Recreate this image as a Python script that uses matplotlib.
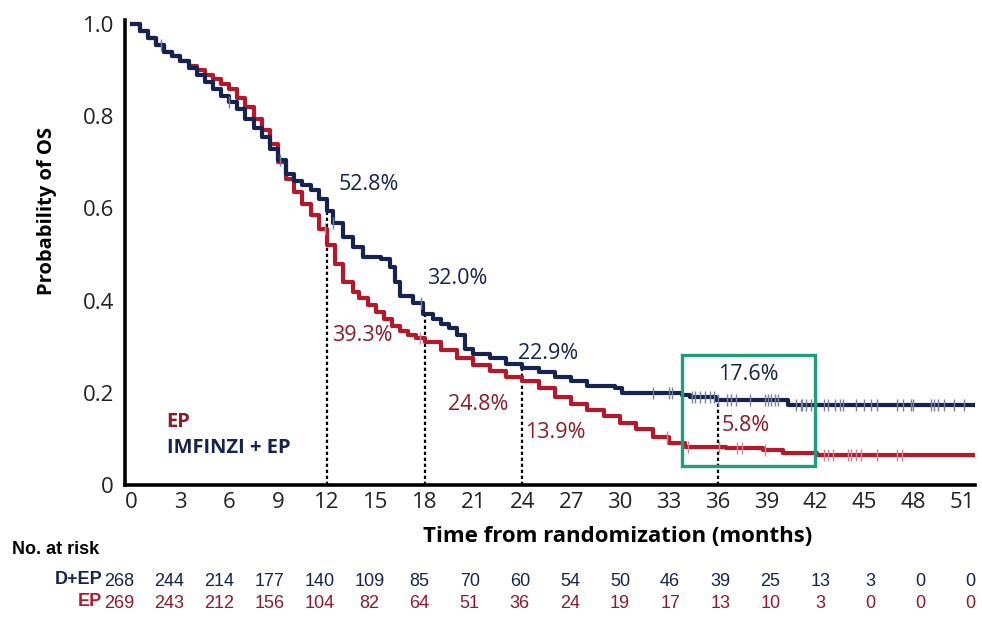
import matplotlib
matplotlib.use("Agg")
import matplotlib.pyplot as plt
from matplotlib import font_manager
from matplotlib.patches import Rectangle
import numpy as np

# Kaplan-Meier step points (months, survival probability)
dep_t = [0, 0.5, 1, 1.5, 2, 2.5, 3, 3.5, 4, 4.5, 5, 5.5, 6, 6.5, 7, 7.5, 8, 8.5,
         9, 9.5, 10, 10.5, 11, 11.5, 12, 12.4, 13, 13.6, 14.2, 15.3, 15.9, 16.2,
         16.5, 17.3, 17.9, 18.5, 19.0, 19.5, 20.0, 20.5, 21.0, 22.0, 23.0, 24.0,
         25.0, 26.0, 27.0, 28.0, 29.7, 30.1, 33.8, 34.3, 35.9, 40.3, 51.7]
dep_s = [1.0, 0.985, 0.97, 0.955, 0.94, 0.93, 0.92, 0.905, 0.89, 0.875, 0.86, 0.845,
         0.83, 0.815, 0.795, 0.775, 0.755, 0.73, 0.705, 0.675, 0.66, 0.65, 0.64, 0.62,
         0.595, 0.568, 0.538, 0.516, 0.495, 0.49, 0.473, 0.44, 0.41, 0.395, 0.37, 0.36,
         0.35, 0.34, 0.325, 0.295, 0.285, 0.275, 0.262, 0.254, 0.245, 0.235, 0.225,
         0.215, 0.21, 0.2, 0.195, 0.19, 0.184, 0.174, 0.174]

ep_t = [0, 0.5, 1, 1.5, 2, 2.5, 3, 3.5, 4, 4.5, 5, 5.5, 6, 6.5, 7, 7.5, 8, 8.5, 9,
        9.5, 10, 10.5, 11, 11.5, 12, 12.5, 13, 13.6, 14.0, 14.5, 15.0, 15.5, 16.0,
        16.5, 17.0, 17.5, 18.0, 19.0, 20.0, 21.0, 22.0, 23.0, 24.0, 25.0, 26.0,
        27.0, 28.0, 29.0, 30.0, 31.0, 32.0, 33.0, 34.0, 36.5, 38.8, 40.0, 42.1, 51.7]
ep_s = [1.0, 0.985, 0.97, 0.955, 0.94, 0.93, 0.92, 0.91, 0.9, 0.89, 0.88, 0.87, 0.86,
        0.84, 0.82, 0.795, 0.77, 0.74, 0.70, 0.665, 0.635, 0.61, 0.585, 0.555, 0.52,
        0.48, 0.44, 0.418, 0.405, 0.39, 0.375, 0.36, 0.345, 0.335, 0.325, 0.318, 0.31,
        0.293, 0.275, 0.26, 0.248, 0.235, 0.225, 0.21, 0.19, 0.175, 0.163, 0.15, 0.135,
        0.122, 0.105, 0.092, 0.083, 0.08, 0.076, 0.069, 0.065, 0.065]

# censoring times
dep_cens = [1.8, 6.0, 9.1, 12.4, 17.8, 32.0, 33.0, 33.2, 34.4, 34.6, 34.9, 35.2, 35.5,
            35.8, 36.0, 36.6, 36.8, 37.1, 38.0, 38.9, 39.1, 39.3, 39.5, 39.7, 40.8,
            41.1, 41.2, 41.4, 41.7, 42.5, 42.8, 43.2, 43.5, 43.7, 44.5, 45.0, 45.4,
            45.8, 47.0, 47.4, 47.9, 48.0, 49.1, 49.3, 49.5, 49.9, 50.5, 51.1]
ep_cens = [11.9, 17.7, 32.9, 34.2, 36.1, 37.2, 37.5, 38.9, 42.5, 42.8, 43.1, 44.0,
           44.2, 44.5, 44.8, 45.8, 47.0, 47.3]

landmarks = [12, 18, 24, 36]
dep_pct = ["52.8%", "32.0%", "22.9%", "17.6%"]
ep_pct = ["39.3%", "24.8%", "13.9%", "5.8%"]
dep_pct_xy = [(14.55, 0.651), (20.0, 0.449), (25.6, 0.286), (37.9, 0.239)]
ep_pct_xy = [(14.2, 0.325), (21.3, 0.174), (26.0, 0.115), (37.7, 0.130)]

dep_risk = [268, 244, 214, 177, 140, 109, 85, 70, 60, 54, 50, 46, 39, 25, 13, 3, 0, 0]
ep_risk = [269, 243, 212, 156, 104, 82, 64, 51, 36, 24, 19, 17, 13, 10, 3, 0, 0, 0]

navy = "#17234f"
red = "#b3182b"
red_txt = "#8e1b2c"
navy_tick = "#7a80a0"
red_tick = "#d08098"
box_col = "#1f9e7e"

names = {f.name for f in font_manager.fontManager.ttflist}
narrow = "Liberation Sans Narrow" if "Liberation Sans Narrow" in names else "Liberation Sans"
plt.rcParams["font.family"] = ["Open Sans", "DejaVu Sans"]

W, H = 982, 621
fig = plt.figure(figsize=(W / 100, H / 100), dpi=100)
ax = fig.add_axes([125 / W, 1 - 485 / H, 850 / W, 465 / H])


def surv_at(ts, ss, x):
    i = np.searchsorted(ts, x, side="right") - 1
    return np.asarray(ss)[i]


ax.plot(ep_t, ep_s, drawstyle="steps-post", color=red, lw=3, zorder=3)
ax.plot(dep_t, dep_s, drawstyle="steps-post", color=navy, lw=3, zorder=4)

ax.plot(dep_cens, surv_at(dep_t, dep_s, dep_cens), ls="none", marker="|",
        ms=9, mew=1.0, color=navy_tick, zorder=5)
ax.plot(ep_cens, surv_at(ep_t, ep_s, ep_cens), ls="none", marker="|",
        ms=9, mew=1.0, color=red_tick, zorder=5)

# landmark drop lines
for m in landmarks:
    ax.plot([m, m], [0, surv_at(dep_t, dep_s, m)], color="black", lw=1.6,
            ls=(0, (1.5, 1.2)), zorder=2)

for txt, (x, y) in zip(dep_pct, dep_pct_xy):
    ax.text(x, y, txt, color=navy, fontsize=15.5, ha="center", va="center")
for txt, (x, y) in zip(ep_pct, ep_pct_xy):
    ax.text(x, y, txt, color=red_txt, fontsize=15.5, ha="center", va="center")

ax.add_patch(Rectangle((33.8, 0.041), 8.2, 0.241, fill=False, ec=box_col,
                       lw=2.4, zorder=6))

ax.text(2.15, 0.137, "EP", color=red_txt, fontsize=14.5, fontweight="bold", va="center")
ax.text(2.15, 0.080, "IMFINZI + EP", color=navy, fontsize=14.5, fontweight="bold",
        va="center")

ax.set_xlim(-0.4, 51.8)
ax.set_ylim(0, 1.009)
ax.set_xticks(np.arange(0, 52, 3))
ax.set_yticks([0, 0.2, 0.4, 0.6, 0.8, 1.0])
ax.set_yticklabels(["0", "0.2", "0.4", "0.6", "0.8", "1.0"])
ax.tick_params(length=0, labelsize=16, pad=5, colors="#222222")
ax.tick_params(axis="y", pad=8)
for s in ["top", "right"]:
    ax.spines[s].set_visible(False)
for s in ["left", "bottom"]:
    ax.spines[s].set_linewidth(2.6)
    ax.spines[s].set_color("black")

ax.set_ylabel("Probability of OS", fontsize=14.5, fontweight="bold")
ax.yaxis.set_label_coords(-0.080, 0.589)
fig.text(618 / W, 1 - 536 / H, "Time from randomization (months)", fontsize=16,
         fontweight="bold", ha="center", va="center")

# number at risk table
fig.text(12 / W, 1 - 549 / H, "No. at risk", fontsize=13, fontweight="bold",
         family=narrow, va="center", ha="left")
fig.text(102 / W, 1 - 580 / H, "D+EP", fontsize=13, fontweight="bold", family=narrow,
         color=navy, ha="right", va="center")
fig.text(102 / W, 1 - 602 / H, "EP", fontsize=13, fontweight="bold", family=narrow,
         color=red, ha="right", va="center")
for i, (a, b) in enumerate(zip(dep_risk, ep_risk)):
    x = (119 + i * 50.1) / W
    fig.text(x, 1 - 581 / H, str(a), fontsize=13, family=narrow, color=navy,
             ha="center", va="center")
    fig.text(x, 1 - 603 / H, str(b), fontsize=13, family=narrow, color=red_txt,
             ha="center", va="center")

fig.savefig("out.png", dpi=100)
